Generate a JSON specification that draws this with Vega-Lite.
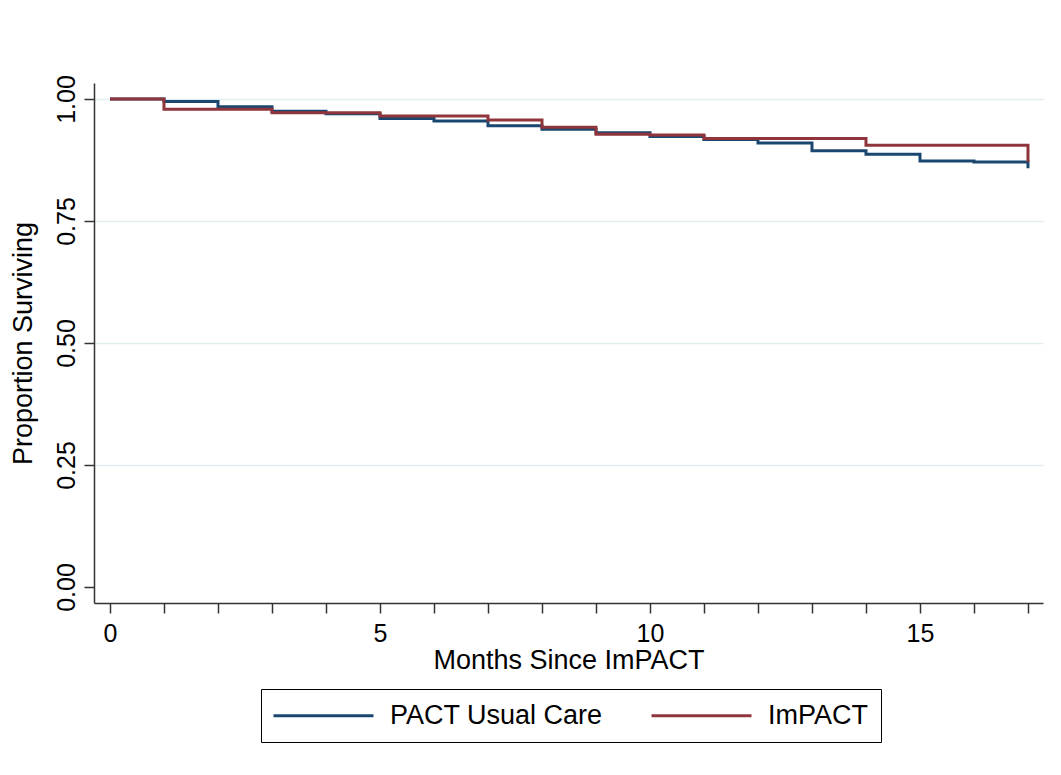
{
  "$schema": "https://vega.github.io/schema/vega-lite/v6.json",
  "width": 949,
  "height": 520,
  "autosize": "none",
  "padding": {"left": 94, "top": 83, "right": 18, "bottom": 172},
  "background": "white",
  "data": {
    "values": [
      {"month": 0, "surv": 1.000, "group": "PACT Usual Care"},
      {"month": 1, "surv": 0.995, "group": "PACT Usual Care"},
      {"month": 2, "surv": 0.984, "group": "PACT Usual Care"},
      {"month": 3, "surv": 0.975, "group": "PACT Usual Care"},
      {"month": 4, "surv": 0.970, "group": "PACT Usual Care"},
      {"month": 5, "surv": 0.960, "group": "PACT Usual Care"},
      {"month": 6, "surv": 0.955, "group": "PACT Usual Care"},
      {"month": 7, "surv": 0.945, "group": "PACT Usual Care"},
      {"month": 8, "surv": 0.938, "group": "PACT Usual Care"},
      {"month": 9, "surv": 0.931, "group": "PACT Usual Care"},
      {"month": 10, "surv": 0.923, "group": "PACT Usual Care"},
      {"month": 11, "surv": 0.917, "group": "PACT Usual Care"},
      {"month": 12, "surv": 0.910, "group": "PACT Usual Care"},
      {"month": 13, "surv": 0.894, "group": "PACT Usual Care"},
      {"month": 14, "surv": 0.887, "group": "PACT Usual Care"},
      {"month": 15, "surv": 0.873, "group": "PACT Usual Care"},
      {"month": 16, "surv": 0.871, "group": "PACT Usual Care"},
      {"month": 17, "surv": 0.858, "group": "PACT Usual Care"},
      {"month": 0, "surv": 1.000, "group": "ImPACT"},
      {"month": 1, "surv": 0.979, "group": "ImPACT"},
      {"month": 3, "surv": 0.972, "group": "ImPACT"},
      {"month": 5, "surv": 0.965, "group": "ImPACT"},
      {"month": 7, "surv": 0.957, "group": "ImPACT"},
      {"month": 8, "surv": 0.942, "group": "ImPACT"},
      {"month": 9, "surv": 0.928, "group": "ImPACT"},
      {"month": 10, "surv": 0.926, "group": "ImPACT"},
      {"month": 11, "surv": 0.919, "group": "ImPACT"},
      {"month": 14, "surv": 0.905, "group": "ImPACT"},
      {"month": 17, "surv": 0.871, "group": "ImPACT"}
    ]
  },
  "mark": {"type": "line", "interpolate": "step-after", "strokeWidth": 3},
  "encoding": {
    "x": {
      "field": "month",
      "type": "quantitative",
      "scale": {"domain": [-0.296, 17.278], "nice": false, "zero": false},
      "axis": {
        "title": "Months Since ImPACT",
        "values": [0, 1, 2, 3, 4, 5, 6, 7, 8, 9, 10, 11, 12, 13, 14, 15, 16, 17],
        "labelExpr": "datum.value % 5 === 0 ? datum.label : ''",
        "grid": false,
        "labelPadding": 8,
        "titlePadding": 1
      }
    },
    "y": {
      "field": "surv",
      "type": "quantitative",
      "scale": {"domain": [-0.0328, 1.0328], "nice": false, "zero": false},
      "axis": {
        "title": "Proportion Surviving",
        "values": [0, 0.25, 0.5, 0.75, 1],
        "format": ".2f",
        "labelAngle": 270,
        "labelAlign": "center",
        "labelBaseline": "alphabetic",
        "labelPadding": 10,
        "titlePadding": 17,
        "grid": true,
        "gridColor": {"condition": {"test": "datum.value === 0", "value": "transparent"}, "value": "#e3edf0"}
      }
    },
    "color": {
      "field": "group",
      "type": "nominal",
      "sort": ["PACT Usual Care", "ImPACT"],
      "scale": {"domain": ["PACT Usual Care", "ImPACT"], "range": ["#1a476f", "#90353b"]},
      "legend": {
        "title": null,
        "orient": "none",
        "legendX": 167,
        "legendY": 606,
        "direction": "horizontal",
        "columns": 2,
        "columnPadding": 42,
        "symbolType": "M-5,0H5",
        "symbolSize": 400,
        "symbolStrokeWidth": 3,
        "symbolOffset": 36,
        "labelOffset": 53,
        "labelFontSize": 27,
        "labelFont": "Liberation Sans",
        "labelColor": "black",
        "labelLimit": 500,
        "padding": 13,
        "strokeColor": "black",
        "fillColor": "white",
        "cornerRadius": 0
      }
    }
  },
  "config": {
    "view": {"stroke": null},
    "font": "Liberation Sans",
    "axis": {
      "labelFont": "Liberation Sans",
      "titleFont": "Liberation Sans",
      "labelFontSize": 25,
      "titleFontSize": 27,
      "titleFontWeight": "normal",
      "labelColor": "black",
      "titleColor": "black",
      "domainColor": "#333333",
      "domainWidth": 1.5,
      "tickColor": "#333333",
      "tickWidth": 1.5,
      "tickSize": 10,
      "gridWidth": 1.5
    }
  }
}
